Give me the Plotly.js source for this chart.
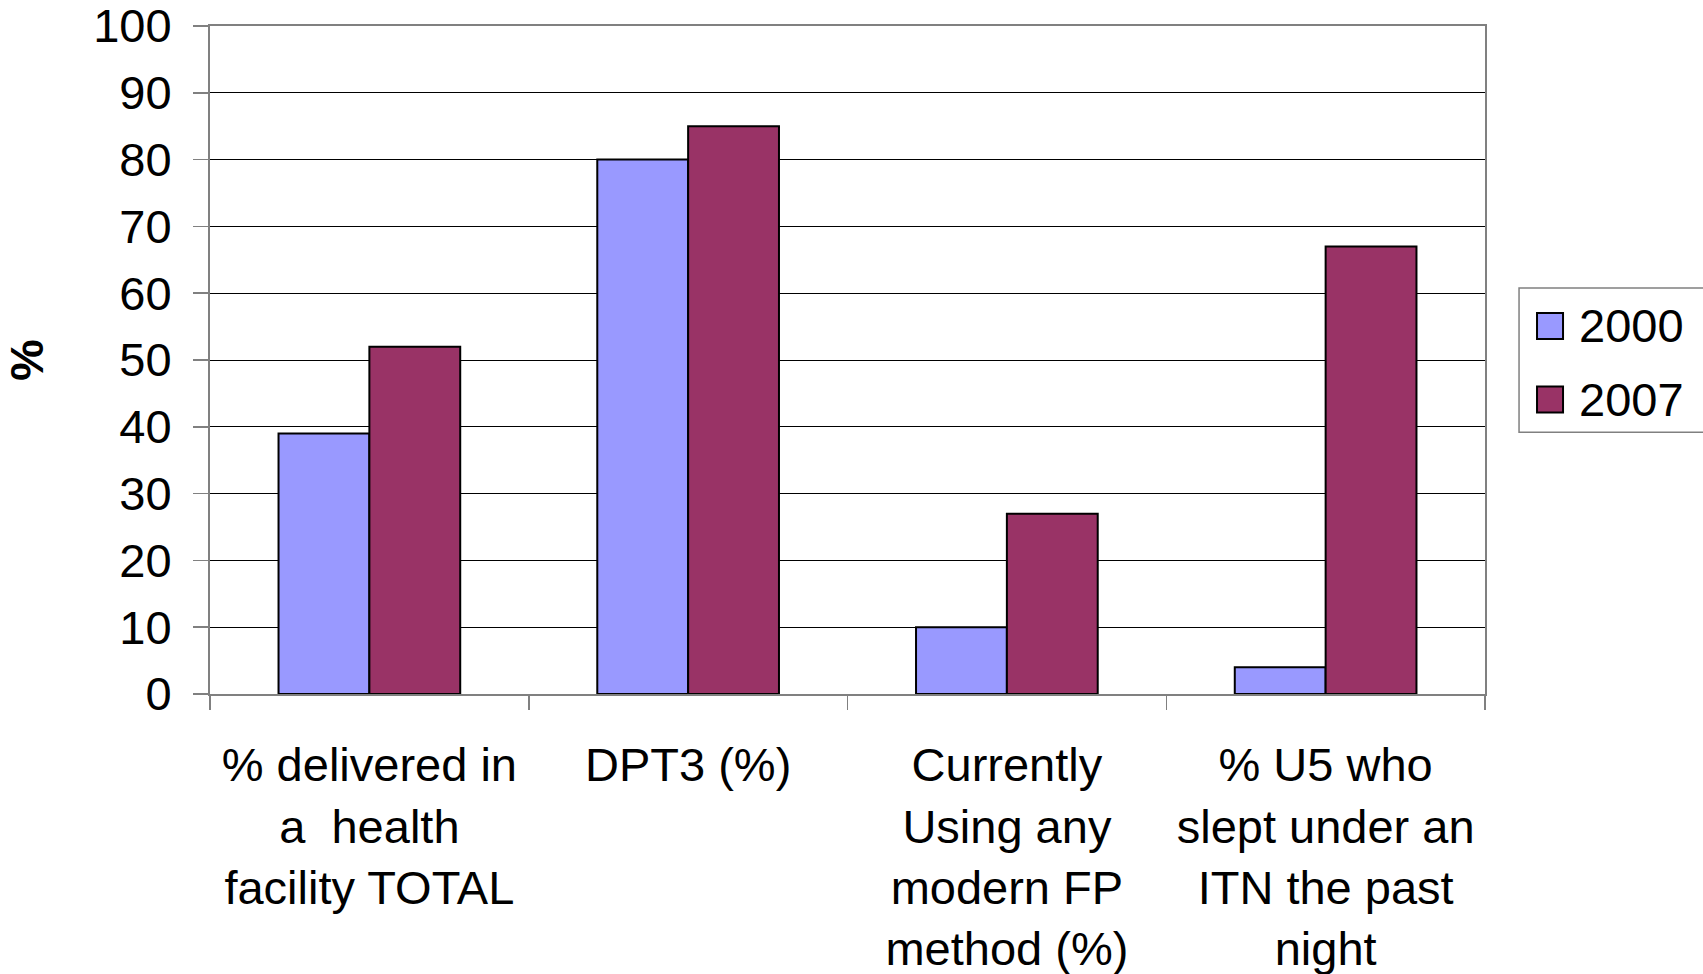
<!DOCTYPE html>
<html>
<head>
<meta charset="utf-8">
<script src="https://cdn.plot.ly/plotly-3.0.1.min.js"></script>
<style>html,body{margin:0;padding:0;background:#fff;}#chart{width:1703px;height:974px;}</style>
</head>
<body>
<div id="chart"></div>
<script>
const categories = [
  '% delivered in<br>a\u00a0 health<br>facility TOTAL',
  'DPT3 (%)',
  'Currently<br>Using any<br>modern FP<br>method (%)',
  '% U5 who<br>slept under an<br>ITN the past<br>night'
];
const seriesNames = ['2000', '2007'];
const values2000 = [39, 80, 10, 4];
const values2007 = [52, 85, 27, 67];
const seriesColors = ['#9999FF', '#993366'];
const yTickValues = [0, 10, 20, 30, 40, 50, 60, 70, 80, 90, 100];

const FONT = 'Liberation Sans, Arial, sans-serif';

const traces = [values2000, values2007].map((vals, i) => ({
  type: 'bar',
  x: categories,
  y: vals,
  name: seriesNames[i],
  marker: {color: seriesColors[i], line: {color: '#000', width: 2}},
  showlegend: false,
  hoverinfo: 'x+y+name'
}));

// manual legend (box, swatches, labels)
const shapes = [{
  type: 'rect', xref: 'paper', yref: 'paper',
  x0: 1.0267, x1: 1.2, y0: 0.392, y1: 0.6078,
  line: {color: '#808080', width: 1.5}, fillcolor: 'rgba(0,0,0,0)'
}];
const annotations = [];
const legendY = [0.5509, 0.4408];
seriesNames.forEach((nm, i) => {
  shapes.push({
    type: 'rect', xref: 'paper', yref: 'paper',
    x0: 1.0408, x1: 1.0612, y0: legendY[i] - 0.0195, y1: legendY[i] + 0.0195,
    line: {color: '#000', width: 2}, fillcolor: seriesColors[i]
  });
  annotations.push({
    xref: 'paper', yref: 'paper', x: 1.0722, y: legendY[i],
    xanchor: 'left', yanchor: 'middle', showarrow: false,
    text: nm, font: {family: FONT, size: 47, color: '#000'}
  });
});

const layout = {
  width: 1703, height: 974,
  paper_bgcolor: '#fff', plot_bgcolor: '#fff',
  margin: {l: 210, r: 218, t: 26, b: 280, autoexpand: false},
  font: {family: FONT, size: 47, color: '#000'},
  barmode: 'group', bargap: 0.43, bargroupgap: 0,
  xaxis: {
    type: 'category', tickson: 'boundaries', ticks: 'outside', ticklen: 14,
    tickcolor: '#808080', tickwidth: 1.5,
    showline: true, linecolor: '#808080', linewidth: 2, mirror: true,
    showgrid: false, automargin: false, ticklabelstandoff: 29,
    tickfont: {family: FONT, size: 47, color: '#000'}
  },
  yaxis: {
    range: [0, 100.001], tickvals: yTickValues, ticktext: yTickValues.map(String),
    ticks: 'outside', ticklen: 15, tickcolor: '#808080', tickwidth: 1.5,
    showline: true, linecolor: '#808080', linewidth: 2, mirror: true,
    showgrid: true, gridcolor: '#000', gridwidth: 1, zeroline: false,
    automargin: false, ticklabelstandoff: 12, ticklabeloverflow: 'allow',
    tickfont: {family: FONT, size: 47, color: '#000'},
    title: {text: '<b>%</b>', font: {family: FONT, size: 47, color: '#000'}, standoff: 43}
  },
  shapes: shapes,
  annotations: annotations,
  showlegend: false
};

Plotly.newPlot('chart', traces, layout, {displayModeBar: false, staticPlot: true});
</script>
</body>
</html>
